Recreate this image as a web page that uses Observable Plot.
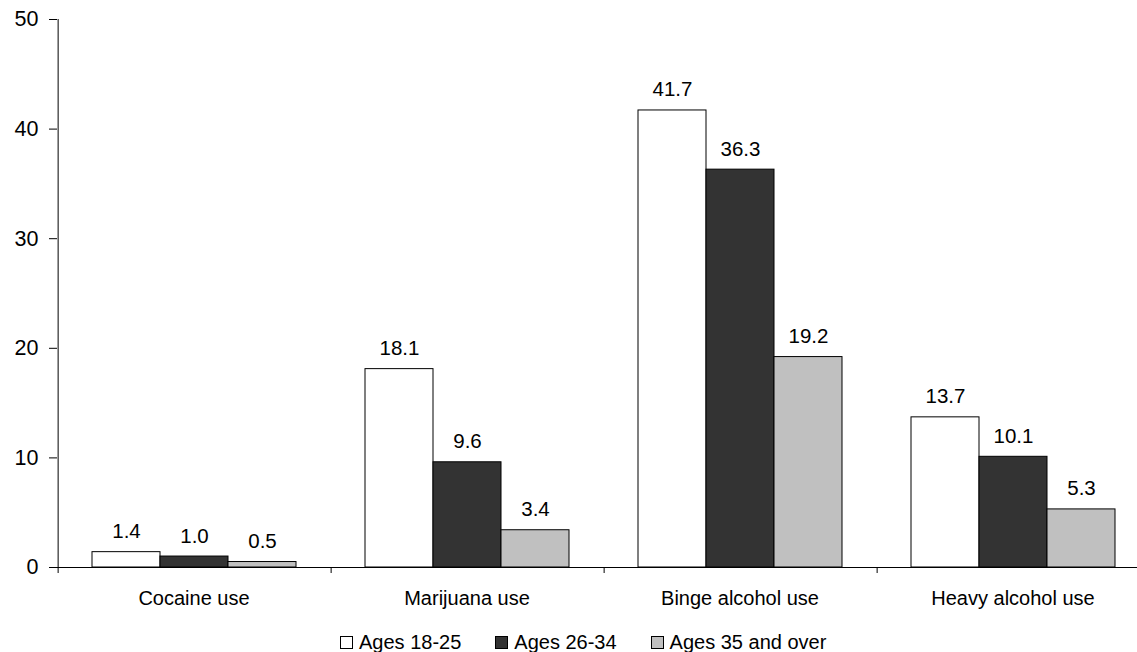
<!DOCTYPE html>
<html>
<head>
<meta charset="utf-8">
<script src="https://cdn.jsdelivr.net/npm/d3@7"></script>
<script src="https://cdn.jsdelivr.net/npm/@observablehq/plot@0.6"></script>
<style>
  html, body { margin: 0; padding: 0; background: #fff; overflow: hidden; }
  #wrap { position: relative; width: 1137px; height: 652px; font-family: "Liberation Sans", Arial, sans-serif; }
  #legend { position: absolute; left: 340px; top: 631px; display: flex; gap: 34px; font-size: 20px; line-height: 22px; color: #000; }
  #legend .item { display: flex; align-items: center; gap: 6px; white-space: nowrap; }
  #legend .sw { width: 11px; height: 11px; border: 1px solid #000; }
  #chart g[aria-label="y-axis"] text, #chart g[aria-label="y-axis tick label"] text { font-size: 21.5px; }
</style>
</head>
<body>
<div id="wrap"><div id="chart"></div><div id="legend"></div></div>
<script>
const categories = ["Cocaine use", "Marijuana use", "Binge alcohol use", "Heavy alcohol use"];
const series = ["Ages 18-25", "Ages 26-34", "Ages 35 and over"];
const colors = ["#ffffff", "#333333", "#c0c0c0"];
const ages18to25 = [1.4, 18.1, 41.7, 13.7];
const ages26to34 = [1.0, 9.6, 36.3, 10.1];
const ages35plus = [0.5, 3.4, 19.2, 5.3];
const yTicks = [0, 10, 20, 30, 40, 50];

const valuesBySeries = [ages18to25, ages26to34, ages35plus];
const data = [];
categories.forEach((c, i) => series.forEach((s, j) => data.push({category: c, series: s, value: valuesBySeries[j][i]})));

const fxRange = [56, 1150];
const bw = (fxRange[1] - fxRange[0]) / categories.length;
const step = bw / (series.length + 1); // paddingOuter 0.5 on each side

const chart = Plot.plot({
  width: 1137,
  height: 620,
  marginTop: 19,
  marginBottom: 53,
  marginLeft: 56,
  marginRight: 0,
  style: {fontFamily: "Liberation Sans, Arial, sans-serif", fontSize: "20px", color: "#000", background: "#fff", overflow: "visible"},
  facet: {data, x: "category"},
  fx: {domain: categories, range: fxRange, padding: 0, axis: "bottom", tickSize: 0, tickPadding: 23, label: null},
  x: {domain: series, paddingInner: 0, paddingOuter: 0.5, axis: null},
  y: {domain: [0, 50], ticks: yTicks, tickSize: 8, tickPadding: 11, label: null},
  color: {domain: series, range: colors},
  marks: [
    Plot.barY(data, {x: "series", y: "value", fill: "series", stroke: "#000", strokeWidth: 1}),
    Plot.text(data, {x: "series", y: "value", text: d => d.value.toFixed(1), lineAnchor: "bottom", dy: -14, fontSize: 20.5, fill: "#000"}),
    Plot.ruleY([0], {stroke: "#000", strokeWidth: 1}),
    Plot.ruleX(data, {filter: d => d.series === series[0] && d.category !== categories[0], x: "series", y1: 0, y2: 0, insetBottom: -6, dx: -step, stroke: "#000", strokeWidth: 1}),
    Plot.ruleX(data, {filter: d => d.series === series[0] && d.category === categories[0], x: "series", y1: 50, y2: 0, insetBottom: -6, dx: -step, stroke: "#000", strokeWidth: 1})
  ]
});
document.getElementById("chart").appendChild(chart);

const legend = document.getElementById("legend");
series.forEach((s, i) => {
  const item = document.createElement("div");
  item.className = "item";
  const sw = document.createElement("span");
  sw.className = "sw";
  sw.style.background = colors[i];
  const t = document.createElement("span");
  t.textContent = s;
  item.appendChild(sw);
  item.appendChild(t);
  legend.appendChild(item);
});
</script>
</body>
</html>
